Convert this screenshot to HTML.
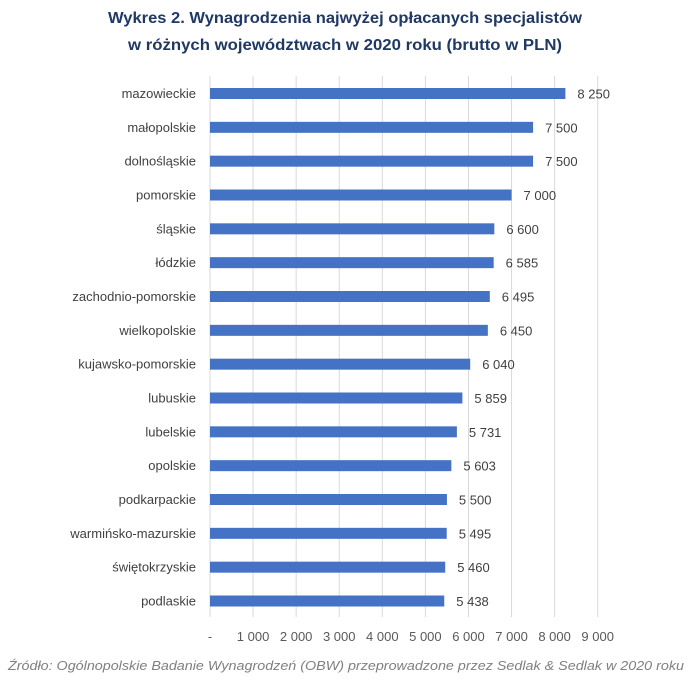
<!DOCTYPE html>
<html><head><meta charset="utf-8"><style>
html,body{margin:0;padding:0;background:#fff;}
svg{display:block;font-family:"Liberation Sans",sans-serif;}
</style></head><body>
<svg id="chart" width="691" height="681" viewBox="0 0 691 681">
<text x="345" y="23" text-anchor="middle" font-size="16" font-weight="bold" fill="#1f3864" textLength="474" lengthAdjust="spacingAndGlyphs">Wykres 2. Wynagrodzenia najwyżej opłacanych specjalistów</text>
<text x="345" y="50" text-anchor="middle" font-size="16" font-weight="bold" fill="#1f3864" textLength="434" lengthAdjust="spacingAndGlyphs">w różnych województwach w 2020 roku (brutto w PLN)</text>
<g id="grid"></g><g id="bars"></g><g id="xticks"></g>
<text x="346" y="670" text-anchor="middle" font-size="13" font-style="italic" fill="#7f7f7f" textLength="676" lengthAdjust="spacingAndGlyphs">Źródło: Ogólnopolskie Badanie Wynagrodzeń (OBW) przeprowadzone przez Sedlak &amp; Sedlak w 2020 roku</text>
</svg>
<script>
const categories=["mazowieckie","małopolskie","dolnośląskie","pomorskie","śląskie","łódzkie","zachodnio-pomorskie","wielkopolskie","kujawsko-pomorskie","lubuskie","lubelskie","opolskie","podkarpackie","warmińsko-mazurskie","świętokrzyskie","podlaskie"];
const values=[8250,7500,7500,7000,6600,6585,6495,6450,6040,5859,5731,5603,5500,5495,5460,5438];
const valueLabels=["8 250","7 500","7 500","7 000","6 600","6 585","6 495","6 450","6 040","5 859","5 731","5 603","5 500","5 495","5 460","5 438"];
const tickValues=[0,1000,2000,3000,4000,5000,6000,7000,8000,9000];
const tickLabels=["-","1 000","2 000","3 000","4 000","5 000","6 000","7 000","8 000","9 000"];
const NS="http://www.w3.org/2000/svg";
const x0=210,x1=597.7,xMax=9000;
const xs=v=>x0+(x1-x0)*v/xMax;
const yTop=76,yBot=617,firstC=93.5,lastC=601;
const ys=i=>firstC+(lastC-firstC)*i/(categories.length-1);
function mk(tag,attrs,parent){const e=document.createElementNS(NS,tag);for(const k in attrs)e.setAttribute(k,attrs[k]);parent.appendChild(e);return e;}
const grid=document.getElementById('grid'),bars=document.getElementById('bars'),xt=document.getElementById('xticks');
tickValues.forEach((v,i)=>{
  const l=mk('line',{x1:xs(v),x2:xs(v),y1:yTop,y2:yBot,stroke:'#d9d9d9','stroke-width':1},grid);
  
  
  const t=mk('text',{x:xs(v),y:641,'text-anchor':'middle','font-size':13,fill:'#595959'},xt);
  t.textContent=tickLabels[i];
  
  
});
categories.forEach((c,i)=>{
  const y=ys(i);
  const lab=mk('text',{x:196,y:y+4.5,'text-anchor':'end','font-size':13,fill:'#404040'},bars);
  lab.textContent=c;
  
  
  const r=mk('rect',{x:x0,y:y-5.5,width:xs(values[i])-x0,height:11,fill:'#4472c4'},bars);
  
  
  const vl=mk('text',{x:xs(values[i])+12,y:y+5,'font-size':13,fill:'#404040'},bars);
  vl.textContent=valueLabels[i];
  
  
});
</script>
</body></html>
